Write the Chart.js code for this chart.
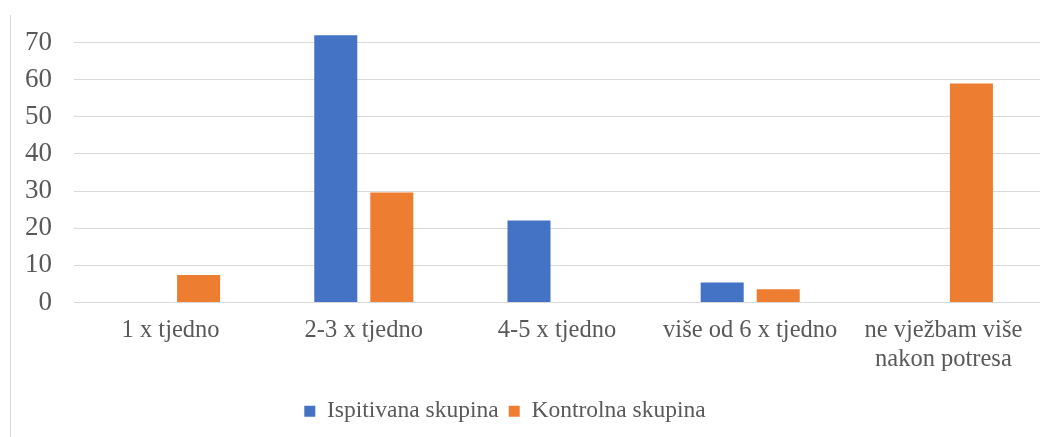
<!DOCTYPE html>
<html>
<head>
<meta charset="utf-8">
<script src="https://cdn.jsdelivr.net/npm/chart.js@4.4.1/dist/chart.umd.min.js"></script>
<style>
  html, body { margin: 0; padding: 0; background: #ffffff; }
  #wrap { position: relative; width: 1051px; height: 437px; }
  #edge { position: absolute; left: 10px; top: 15px; width: 1px; height: 422px; background: #d9d9d9; }
  canvas { position: absolute; left: 0; top: 0; }
</style>
</head>
<body>
<div id="wrap">
  <canvas id="c" width="1051" height="437"></canvas>
  <div id="edge"></div>
</div>
<script>
const categories = ["1 x tjedno", "2-3 x tjedno", "4-5 x tjedno", "više od 6 x tjedno", ["ne vježbam više", "nakon potresa"]];
const seriesNames = ["Ispitivana skupina", "Kontrolna skupina"];
const ispitivana = [0, 72, 22.1, 5.4, 0];
const kontrolna = [7.4, 29.6, 0, 3.6, 59];
const yTicks = [0, 10, 20, 30, 40, 50, 60, 70];

const FONT = "'Liberation Serif', serif";
const TXT = "#595959";
const GRID = "#d9d9d9";

const legendShift = {
  id: "legendShift",
  afterLayout(chart) {
    if (chart.legend) { chart.legend.left -= 20; chart.legend.right -= 20; }
  }
};

new Chart(document.getElementById("c"), {
  type: "bar",
  data: {
    labels: categories,
    datasets: [
      { label: seriesNames[0], data: ispitivana, backgroundColor: "#4472C4", borderWidth: 0,
        categoryPercentage: 0.58, barPercentage: 0.768 },
      { label: seriesNames[1], data: kontrolna, backgroundColor: "#ED7D31", borderWidth: 0,
        categoryPercentage: 0.58, barPercentage: 0.768 }
    ]
  },
  plugins: [legendShift],
  options: {
    responsive: false,
    animation: false,
    layout: { padding: { left: 10, right: 11, top: 24, bottom: 4 } },
    plugins: {
      tooltip: { enabled: false },
      legend: {
        position: "bottom",
        labels: {
          font: { family: FONT, size: 23.5 },
          color: TXT,
          boxWidth: 11,
          boxHeight: 11,
          padding: 10
        }
      }
    },
    scales: {
      x: {
        grid: { display: false, drawTicks: false },
        border: { display: false },
        ticks: { font: { family: FONT, size: 24.5 }, color: TXT, padding: 13, maxRotation: 0, autoSkip: false },
        afterFit: (s) => { s.height = 87; }
      },
      y: {
        min: 0,
        max: 75,
        grid: { color: GRID, lineWidth: 1, drawTicks: false },
        border: { display: false },
        ticks: { stepSize: 10, font: { family: FONT, size: 27 }, color: TXT, padding: 22 },
        afterBuildTicks: (s) => { s.ticks = yTicks.map(v => ({ value: v })); },
        afterFit: (s) => { s.width = 64; s.paddingTop = 0; s.paddingBottom = 0; }
      }
    }
  }
});
</script>
</body>
</html>
